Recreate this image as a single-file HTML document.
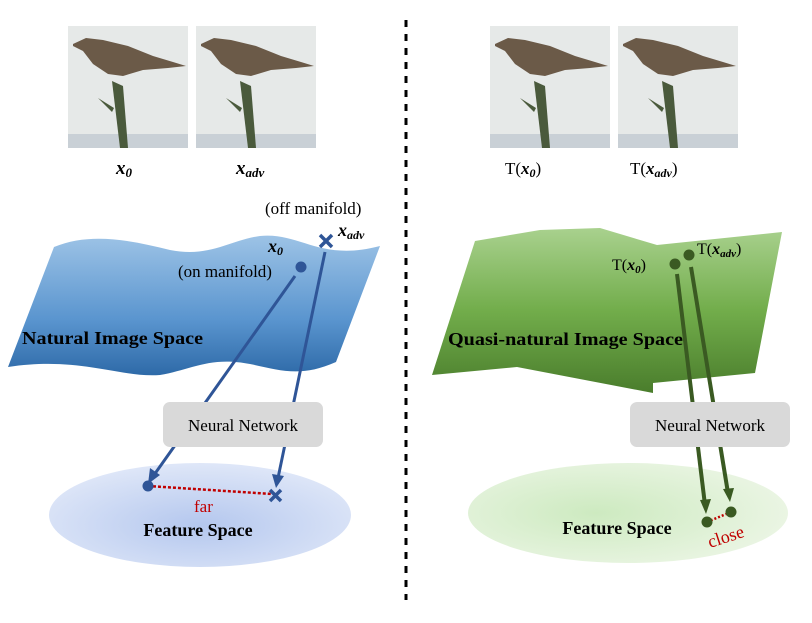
<!DOCTYPE html>
<html><head><meta charset="utf-8"><style>
html,body{margin:0;padding:0;background:#fff;}
svg text{font-family:"Liberation Serif",serif;}
</style></head><body>
<svg width="812" height="618" viewBox="0 0 812 618" xmlns="http://www.w3.org/2000/svg">
<defs>
<linearGradient id="bl" x1="0" y1="0" x2="0" y2="1">
<stop offset="0" stop-color="#9dc3e6"/><stop offset="0.6" stop-color="#5a95cf"/><stop offset="1" stop-color="#2e6aa8"/></linearGradient>
<linearGradient id="gr" x1="0" y1="0" x2="0" y2="1">
<stop offset="0" stop-color="#a9d18e"/><stop offset="0.5" stop-color="#72ad4b"/><stop offset="1" stop-color="#4a7d2c"/></linearGradient>
<radialGradient id="fb" cx="0.5" cy="0.6" r="0.6"><stop offset="0" stop-color="#b4c7ee"/><stop offset="1" stop-color="#dfe7f8"/></radialGradient>
<radialGradient id="fg" cx="0.4" cy="0.5" r="0.6"><stop offset="0" stop-color="#cdeac0"/><stop offset="1" stop-color="#eaf5e3"/></radialGradient>
<g id="bird">
<rect x="0" y="0" width="120" height="122" fill="#e6e9e8"/>
<rect x="0" y="108" width="120" height="14" fill="#c9d0d6"/>
<path d="M44 55 L52 122 L60 122 L55 60 Z" fill="#4a5a3c"/>
<path d="M30 72 L46 82 L44 86 Z" fill="#4a5a3c"/>
<path d="M5 18 L18 12 L35 14 L60 20 L85 30 L105 36 L118 40 L100 42 L75 44 L55 50 L40 48 L25 38 L15 25 L5 20 Z" fill="#6b5a48"/>
</g>
</defs>
<use href="#bird" x="68" y="26"/>
<use href="#bird" x="196" y="26"/>
<use href="#bird" x="490" y="26"/>
<use href="#bird" x="618" y="26"/>
<text x="116" y="174" font-size="19" font-weight="bold" font-style="italic">x<tspan font-size="13" dy="3">0</tspan></text>
<text x="236" y="174" font-size="19" font-weight="bold" font-style="italic">x<tspan font-size="13" dy="3">adv</tspan></text>
<text x="505" y="174" font-size="17">T(<tspan font-weight="bold" font-style="italic">x</tspan><tspan font-size="12" dy="3" font-weight="bold" font-style="italic">0</tspan><tspan dy="-3">)</tspan></text>
<text x="630" y="174" font-size="17">T(<tspan font-weight="bold" font-style="italic">x</tspan><tspan font-size="12" dy="3" font-weight="bold" font-style="italic">adv</tspan><tspan dy="-3">)</tspan></text>
<line x1="406" y1="20" x2="406" y2="600" stroke="#000" stroke-width="3" stroke-dasharray="7,7"/>
<path d="M54 247 C90 232 130 240 170 250 C210 258 230 240 260 236 C300 232 320 262 380 246 L336 362 C300 378 280 370 250 364 C210 356 190 370 160 375 C120 378 80 356 8 367 Z" fill="url(#bl)"/>
<text x="22" y="344" font-size="18" font-weight="bold" textLength="181" lengthAdjust="spacingAndGlyphs">Natural Image Space</text>
<text x="265" y="214" font-size="17">(off manifold)</text>
<text x="338" y="236" font-size="18" font-weight="bold" font-style="italic">x<tspan font-size="12" dy="3">adv</tspan></text>
<text x="268" y="252" font-size="18" font-weight="bold" font-style="italic">x<tspan font-size="12" dy="3">0</tspan></text>
<text x="178" y="277" font-size="17">(on manifold)</text>
<circle cx="301" cy="267" r="5.5" fill="#2f5597"/>
<path d="M320 235 L332 247 M332 235 L320 247" stroke="#2f5597" stroke-width="3.5"/>
<polygon points="475,241 540,230 600,228 657,245 782,232 755,373 653,383 653,393 517,367 432,375" fill="url(#gr)"/>
<text x="448" y="345" font-size="18" font-weight="bold" textLength="235" lengthAdjust="spacingAndGlyphs">Quasi-natural Image Space</text>
<text x="612" y="270" font-size="16">T(<tspan font-weight="bold" font-style="italic">x</tspan><tspan font-size="11" dy="3" font-weight="bold" font-style="italic">0</tspan><tspan dy="-3">)</tspan></text>
<text x="697" y="254" font-size="16">T(<tspan font-weight="bold" font-style="italic">x</tspan><tspan font-size="11" dy="3" font-weight="bold" font-style="italic">adv</tspan><tspan dy="-3">)</tspan></text>
<circle cx="675" cy="264" r="5.5" fill="#3a5a22"/>
<circle cx="689" cy="255" r="5.5" fill="#3a5a22"/>
<ellipse cx="200" cy="515" rx="151" ry="52" fill="url(#fb)"/>
<ellipse cx="628" cy="513" rx="160" ry="50" fill="url(#fg)"/>
<line x1="295" y1="276" x2="154" y2="475" stroke="#2f5597" stroke-width="3"/>
<path d="M148 484 L150 468 L160 475 Z" fill="#2f5597"/>
<line x1="325" y1="252" x2="278" y2="478" stroke="#2f5597" stroke-width="3"/>
<path d="M276 488 L272 474 L284 476 Z" fill="#2f5597"/>
<line x1="677" y1="274" x2="705" y2="505" stroke="#3a5a22" stroke-width="4"/>
<path d="M706 514 L700 500 L711 499 Z" fill="#3a5a22"/>
<line x1="691" y1="267" x2="728" y2="493" stroke="#3a5a22" stroke-width="4"/>
<path d="M730 502 L723 489 L734 488 Z" fill="#3a5a22"/>
<rect x="163" y="402" width="160" height="45" rx="7" fill="#d9d9d9"/>
<text x="243" y="431" font-size="17" text-anchor="middle">Neural Network</text>
<rect x="630" y="402" width="160" height="45" rx="7" fill="#d9d9d9"/>
<text x="710" y="431" font-size="17" text-anchor="middle">Neural Network</text>
<line x1="148" y1="486" x2="272" y2="494" stroke="#c00000" stroke-width="2.5" stroke-dasharray="3,2"/>
<circle cx="148" cy="486" r="5.5" fill="#2f5597"/>
<path d="M270 490 L281 501 M281 490 L270 501" stroke="#2f5597" stroke-width="3.5"/>
<text x="194" y="512" font-size="17" fill="#c00000">far</text>
<text x="198" y="536" font-size="18" font-weight="bold" text-anchor="middle">Feature Space</text>
<line x1="707" y1="522" x2="731" y2="512" stroke="#c00000" stroke-width="2.5" stroke-dasharray="2,2"/>
<circle cx="707" cy="522" r="5.5" fill="#3a5a22"/>
<circle cx="731" cy="512" r="5.5" fill="#3a5a22"/>
<text x="0" y="0" font-size="18" fill="#c00000" transform="translate(710,548) rotate(-18)">close</text>
<text x="617" y="534" font-size="18" font-weight="bold" text-anchor="middle">Feature Space</text>
</svg>
</body></html>
